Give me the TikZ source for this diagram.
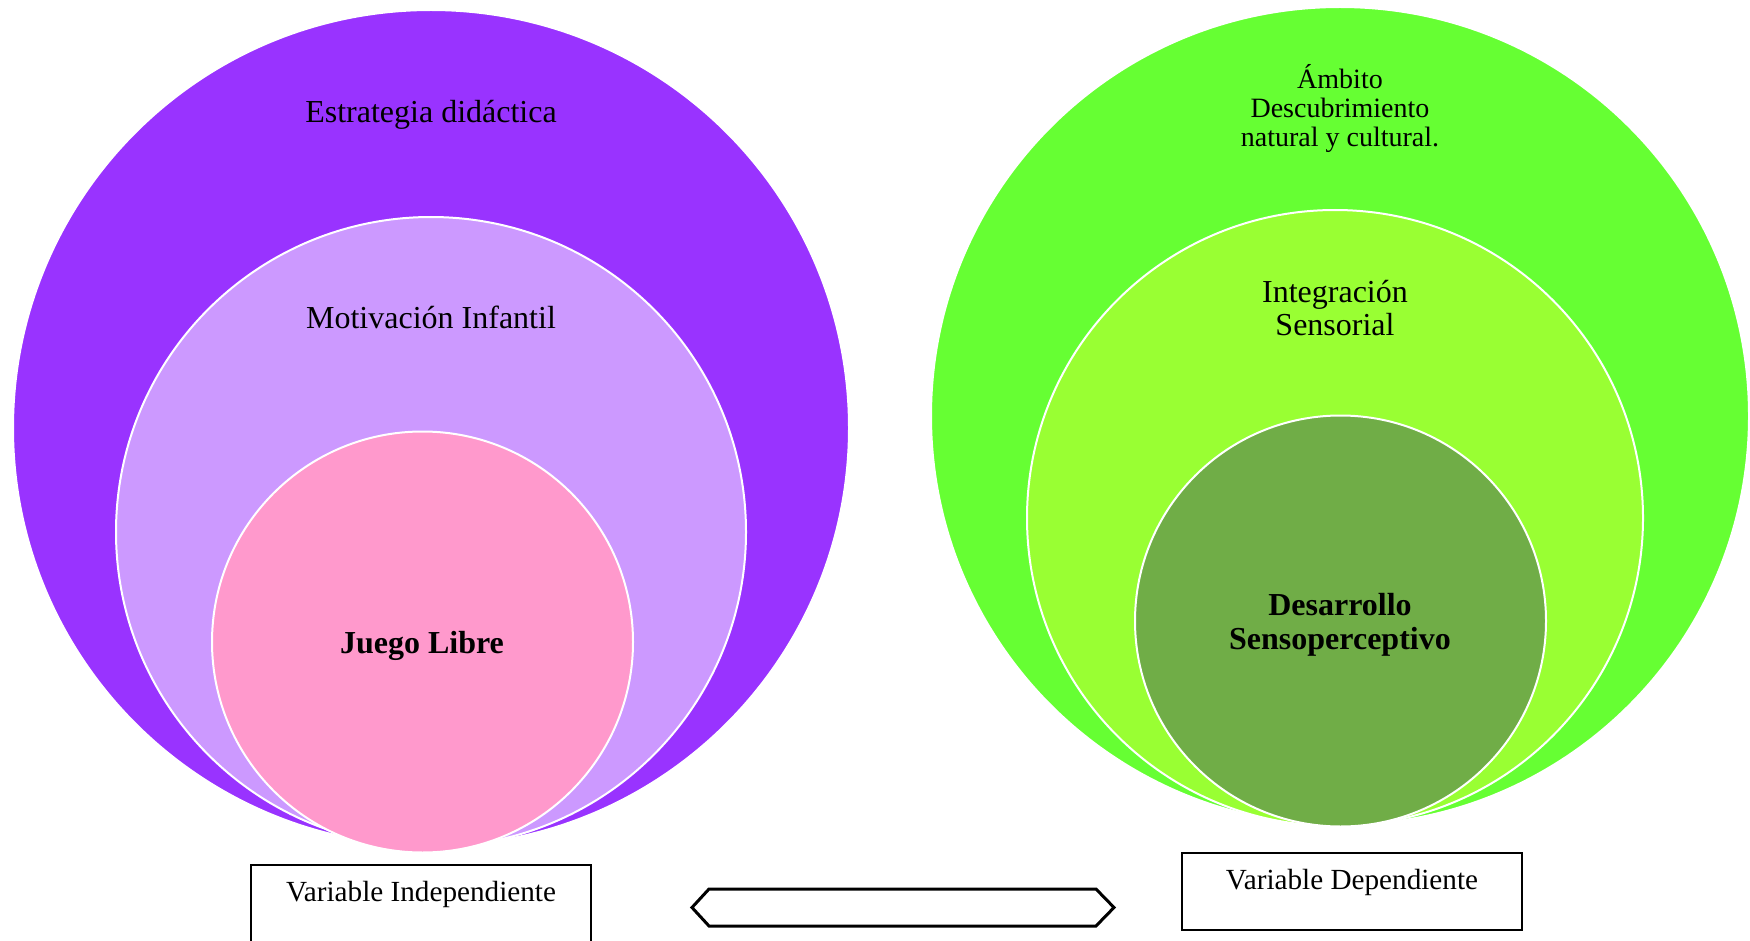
\documentclass[tikz,border=0pt]{standalone}
\usepackage{fontspec}
\setmainfont{Liberation Serif}
\usepackage{tikz}
\usetikzlibrary{positioning}
\usepackage{xcolor}
\definecolor{violeta}{HTML}{9933FF}
\definecolor{lila}{HTML}{CC99FF}
\definecolor{rosa}{HTML}{FF99CC}
\definecolor{verdeclaro}{HTML}{66FF33}
\definecolor{verdelima}{HTML}{99FF33}
\definecolor{verdeoscuro}{HTML}{70AD47}

\begin{document}
\begin{tikzpicture}[
    x=0.5pt, y=-0.5pt,
    ring/.style={circle, draw=white, line width=1pt, inner sep=0pt},
    rotulo/.style={align=center, inner sep=0pt, font=\fontsize{16}{16.8}\selectfont},
    varbox/.style={draw, line width=0.75pt, anchor=north, minimum width=170pt,
                   inner ysep=0pt, text height=18.5pt, text depth=20pt,
                   font=\fontsize{14.6}{16}\selectfont},
]
  \useasboundingbox (0,0) rectangle (1750,941);

  % variable independiente
  \node[ring, fill=violeta, minimum size=418pt] (estrategia) at (431,428) {};
  \node[ring, fill=lila, minimum size=315pt] (motivacion) at (431,532) {};
  \node[ring, fill=rosa, minimum size=210.5pt] (juego) at (422.5,642) {};
  \node[rotulo] (t-estrategia) at (431,115) {Estrategia didáctica};
  \node[rotulo] (t-motivacion) at (431,317) {Motivación Infantil};
  \node[rotulo, font=\fontsize{16}{16.8}\selectfont\bfseries] (t-juego) at (422,646) {Juego Libre};

  % variable dependiente
  \node[ring, fill=verdeclaro, minimum size=409pt] (ambito) at (1340,416) {};
  \node[ring, fill=verdelima, minimum size=308pt] (integracion) at (1335,518) {};
  \node[ring, fill=verdeoscuro, minimum size=205.5pt] (desarrollo) at (1340.5,621) {};
  \node[rotulo, font=\fontsize{14}{14.5}\selectfont] (t-ambito) at (1340,109)
       {Ámbito\\Descubrimiento\\natural y cultural.};
  \node[rotulo] (t-integracion) at (1335,308) {Integración\\Sensorial};
  \node[rotulo, font=\fontsize{16}{16.8}\selectfont\bfseries] (t-desarrollo) at (1340,625)
       {Desarrollo\\Sensoperceptivo};

  % cajas
  \node[varbox, text depth=26pt] (indep) at (421,864) {Variable Independiente};
  \node[varbox] (dep) at (1352,852) {Variable Dependiente};

  % flecha doble
  \draw[line width=1.5pt, line join=miter]
    (692,907.5) -- (709,889) -- (1096,889) -- (1114,907.5) -- (1096,926) -- (709,926) -- cycle;
\end{tikzpicture}
\end{document}
